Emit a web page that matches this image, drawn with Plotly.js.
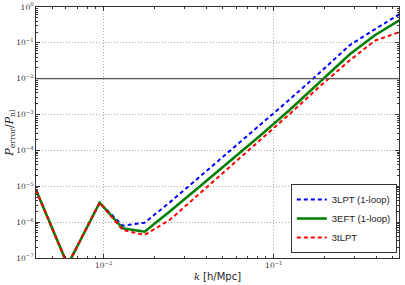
<!DOCTYPE html>
<html><head><meta charset="utf-8">
<script src="https://cdn.plot.ly/plotly-3.0.1.min.js"></script>
<style>body{margin:0;background:#fff}#c{width:405px;height:285px}</style>
</head><body><div id="c"></div>
<script>
const k = [0.004, 0.00614, 0.00947, 0.01294, 0.01741, 0.02445, 0.0367, 0.0551, 0.0827, 0.124, 0.1866, 0.280, 0.393, 0.551];
const lpt1loop = [7.9e-6, 6.4e-8, 3.49e-6, 7.96e-7, 9.66e-7, 3.56e-6, 1.84e-5, 9.59e-5, 4.99e-4, 2.64e-3, 0.0148, 0.0866, 0.239, 0.638];
const eft1loop = [7.9e-6, 6.4e-8, 3.49e-6, 6.74e-7, 5.42e-7, 1.97e-6, 9.93e-6, 4.98e-5, 2.51e-4, 1.34e-3, 8.2e-3, 0.048, 0.163, 0.434];
const tlpt = [7.9e-6, 6.4e-8, 3.49e-6, 6.04e-7, 4.40e-7, 1.15e-6, 6.3e-6, 3.45e-5, 1.88e-4, 1.04e-3, 6.1e-3, 0.0327, 0.115, 0.201];
const names = ['3LPT (1-loop)', '3EFT (1-loop)', '3tLPT'];
const refLevel = 1e-2;
const xTickVals = [0.01, 0.1];
const xTickText = ['10<sup>−2</sup>', '10<sup>−1</sup>'];
const yTickVals = [1e-7, 1e-6, 1e-5, 1e-4, 1e-3, 1e-2, 1e-1, 1];
const yTickText = ['10<sup>−7</sup>', '10<sup>−6</sup>', '10<sup>−5</sup>', '10<sup>−4</sup>', '10<sup>−3</sup>', '10<sup>−2</sup>', '10<sup>−1</sup>', '10<sup>0</sup>'];

const serif = 'DejaVu Serif, Liberation Serif, serif';
const sans = 'DejaVu Sans, sans-serif';
const traces = [
  {x: k, y: lpt1loop, name: names[0], mode: 'lines', line: {color: '#0000ff', width: 2, dash: '4px,3px'}},
  {x: k, y: eft1loop, name: names[1], mode: 'lines', line: {color: '#008000', width: 2.6}},
  {x: k, y: tlpt, name: names[2], mode: 'lines', line: {color: '#ff0000', width: 2, dash: '4px,3px'}}
];
const axCommon = {
  type: 'log', showline: true, mirror: 'ticks', linecolor: '#333', linewidth: 1,
  ticks: 'inside', ticklen: 4, tickcolor: '#333', tickmode: 'array',
  showgrid: true, gridcolor: '#aaa', griddash: '1px,2px', gridwidth: 1,
  zeroline: false, tickfont: {family: serif, size: 7.5, color: '#333'},
  minor: {ticks: 'inside', ticklen: 2, tickcolor: '#333', showgrid: false, dtick: 'D1'}
};
const layout = {
  width: 405, height: 285,
  margin: {l: 36, r: 6, t: 7, b: 27},
  paper_bgcolor: '#fff', plot_bgcolor: '#fff',
  showlegend: true,
  legend: {x: 0.994, y: 0.02, xanchor: 'right', yanchor: 'bottom', bordercolor: '#333', borderwidth: 1,
           bgcolor: '#fff', font: {family: 'Liberation Sans, Arial, sans-serif', size: 9.5, color: '#222'},
           tracegroupgap: 0, itemwidth: 30},
  xaxis: Object.assign({}, axCommon, {range: [Math.log10(0.004), Math.log10(0.545)],
    tickvals: xTickVals, ticktext: xTickText,
    title: {text: '<span style="font-family:DejaVu Serif"><i>k</i></span> [h/Mpc]', font: {family: sans, size: 10, color: '#222'}, standoff: 3}}),
  yaxis: Object.assign({}, axCommon, {range: [-7, 0],
    tickvals: yTickVals, ticktext: yTickText}),
  annotations: [{xref: 'paper', yref: 'paper', x: -0.074, y: 0.5, xanchor: 'center', yanchor: 'middle',
    textangle: -90, showarrow: false,
    text: '<i>P</i><sub>error</sub>/<i>P</i><sub>nl</sub>', font: {family: serif, size: 11, color: '#222'}}],
  shapes: [{type: 'line', xref: 'paper', x0: 0, x1: 1, yref: 'y', y0: refLevel, y1: refLevel, line: {color: '#555', width: 1.3}}]
};
Plotly.newPlot('c', traces, layout, {staticPlot: true, displayModeBar: false});
</script></body></html>
